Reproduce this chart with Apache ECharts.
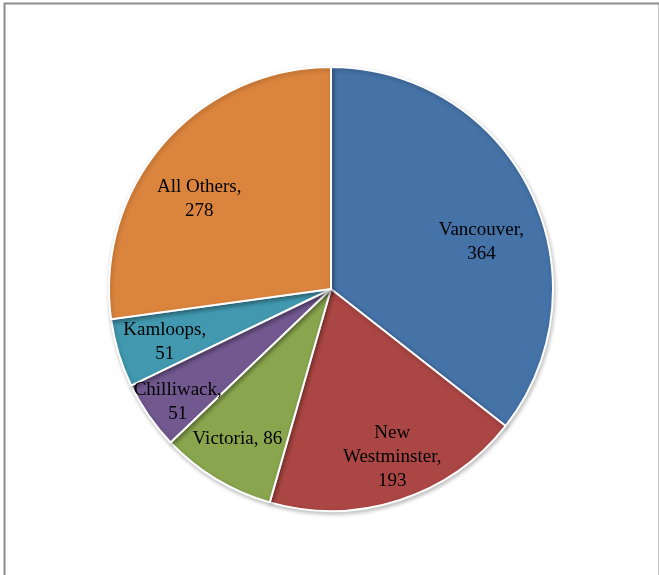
<!DOCTYPE html>
<html>
<head>
<meta charset="utf-8">
<script src="https://cdn.jsdelivr.net/npm/echarts@6/dist/echarts.min.js"></script>
<style>
html,body{margin:0;padding:0;background:#fff;}
#c{width:659px;height:575px;}
</style>
</head>
<body>
<div id="c"></div>
<script>
const categories = ['Vancouver', 'New Westminster', 'Victoria', 'Chilliwack', 'Kamloops', 'All Others'];
const values = [364, 193, 86, 51, 51, 278];
const labelTexts = ['Vancouver,\n364', 'New\nWestminster,\n193', 'Victoria, 86', 'Chilliwack,\n51', 'Kamloops,\n51', 'All Others,\n278'];
const colors = ['#4572A7', '#AA4643', '#89A54E', '#71588F', '#4198AF', '#DB843D'];
// label nudges (styling only, px)
const labelNudge = [[-2, 27], [9, 7], [-6, 5], [-14, 16], [-4, 4], [-4, 21]];

const chart = echarts.init(document.getElementById('c'), null, {renderer: 'canvas'});
const R = 222;
const center = [331, 289];
chart.setOption({
  animation: false,
  graphic: [{
    type: 'rect', left: 2, top: 1, silent: true,
    shape: {width: 655, height: 576},
    style: {fill: 'none', stroke: '#8c8c8c', lineWidth: 2}
  }],
  series: [{
    type: 'pie',
    center: center,
    radius: [0, R],
    startAngle: 90,
    clockwise: true,
    label: {show: false},
    labelLine: {show: false},
    itemStyle: {borderColor: '#fff', borderWidth: 2, shadowBlur: 4, shadowColor: 'rgba(0,0,0,0.25)', shadowOffsetX: 1, shadowOffsetY: 2},
    data: categories.map((n, i) => ({name: n, value: values[i], itemStyle: {color: colors[i]}}))
  }, {
    type: 'pie',
    center: center,
    radius: [R * 0.5, R],
    startAngle: 90,
    clockwise: true,
    silent: true,
    avoidLabelOverlap: false,
    labelLayout: {hideOverlap: false},
    itemStyle: {color: 'rgba(0,0,0,0)', borderWidth: 0},
    label: {
      show: true, position: 'inside', color: '#000',
      fontFamily: 'Liberation Serif, DejaVu Serif, serif', fontSize: 19, lineHeight: 24,
      formatter: p => labelTexts[p.dataIndex]
    },
    labelLine: {show: false},
    data: categories.map((n, i) => ({name: n, value: values[i], label: {offset: labelNudge[i]}}))
  }]
});
</script>
</body>
</html>
